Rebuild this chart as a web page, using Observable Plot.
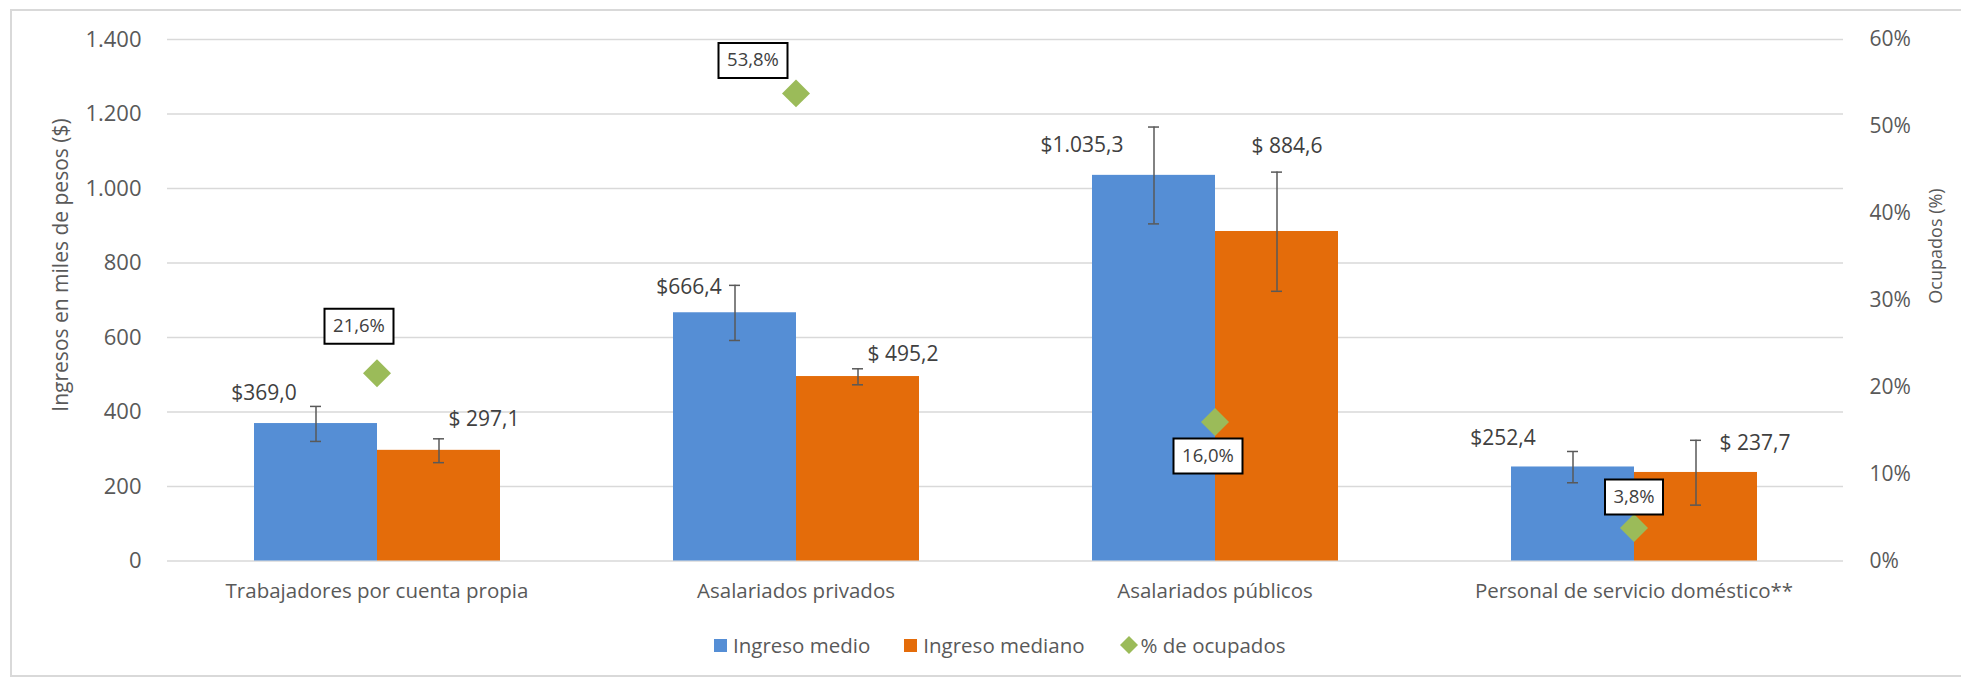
<!DOCTYPE html>
<html>
<head>
<meta charset="utf-8">
<script src="https://cdn.jsdelivr.net/npm/d3@7"></script>
<script src="https://cdn.jsdelivr.net/npm/@observablehq/plot@0.6"></script>
<style>
  body { margin: 0; background: #fff; font-family: "Open Sans", sans-serif; overflow: hidden; }
  #wrap { position: relative; width: 1961px; height: 680px; overflow: hidden; }
  #border { position: absolute; left: 10px; top: 9px; width: 1970px; height: 668px; border: 2px solid #d9d9d9; box-sizing: border-box; }
  #chart { position: absolute; left: 0; top: 0; }
  .ytitle { position: absolute; white-space: nowrap; color: #595959; transform: translate(-50%, -50%) rotate(-90deg); }
  #legend { position: absolute; left: 714px; top: 645px; transform: translateY(-50%); display: flex; align-items: center; font-size: 20.5px; color: #595959; }
  .item { display: flex; align-items: center; margin-right: 34px; }
  .sw { width: 13px; height: 13px; margin-right: 6px; }
</style>
</head>
<body>
<div id="wrap">
  <div id="border"></div>
  <div id="chart"></div>
  <div class="ytitle" style="left:60px; top:265px; font-size:21px;">Ingresos en miles de pesos ($)</div>
  <div class="ytitle" style="left:1935px; top:246px; font-size:18px;">Ocupados (%)</div>
  <div id="legend"></div>
</div>
<script>
// ---- Data ----
const categories = ["Trabajadores por cuenta propia", "Asalariados privados", "Asalariados públicos", "Personal de servicio doméstico**"];
const seriesNames = ["Ingreso medio", "Ingreso mediano"];
const ingresoMedio = [369.0, 666.4, 1035.3, 252.4];
const ingresoMediano = [297.1, 495.2, 884.6, 237.7];
const medioLo = [321, 592, 905, 210];
const medioHi = [415, 740, 1165, 294];
const medianoLo = [264, 473, 724, 150];
const medianoHi = [328, 516, 1044, 324];
const pctOcupados = [21.6, 53.8, 16.0, 3.8];
const yTicks = [0, 200, 400, 600, 800, 1000, 1200, 1400];
const pctTicks = [0, 10, 20, 30, 40, 50, 60];
const pctName = "% de ocupados";

// ---- Layout (label placement, not data) ----
const barLabelOffset = {
  "Ingreso medio": [[-52, -30], [-46, -26], [-72, -30], [-70, -29]],
  "Ingreso mediano": [[45, -31], [45, -22], [10, -85], [59, -29]]
};
const pctLabelOffset = [[-18, -47], [-43, -33], [-7, 34], [0, -31]];
const colors = ["#558ED5", "#E46C0A"];
const green = "#9BBB59";

const loc = d3.formatLocale({decimal: ",", thousands: ".", grouping: [3], currency: ["$", ""]});
const fmt1 = loc.format(",.1f");
const fmt0 = loc.format(",.0f");
const K = 1400 / 60; // secondary axis: % mapped onto the income scale

const bars = categories.flatMap((c, i) => [
  {cat: c, i, serie: seriesNames[0], value: ingresoMedio[i], lo: medioLo[i], hi: medioHi[i], label: "$" + fmt1(ingresoMedio[i])},
  {cat: c, i, serie: seriesNames[1], value: ingresoMediano[i], lo: medianoLo[i], hi: medianoHi[i], label: "$ " + fmt1(ingresoMediano[i])}
]);
const pts = categories.map((c, i) => ({cat: c, i, pct: pctOcupados[i], label: fmt1(pctOcupados[i]) + "%"}));

const labelMarks = bars.map(b => Plot.text([b], {
  fx: "cat", x: "serie", y: "value", text: "label",
  dx: barLabelOffset[b.serie][b.i][0], dy: barLabelOffset[b.serie][b.i][1],
  fill: "#404040", fontSize: 21
}));
const boxSymbol = (w, h) => ({draw(ctx) { ctx.rect(-w / 2, -h / 2, w, h); }});
const pctLabelMarks = pts.flatMap(p => {
  const [dx, dy] = pctLabelOffset[p.i];
  const w = 14 + 11 * p.label.length;
  return [
    Plot.dot([p], {fx: "cat", y: d => d.pct * K, symbol: boxSymbol(w, 35), r: 10,
      fill: "white", stroke: "black", strokeWidth: 2, dx, dy}),
    Plot.text([p], {fx: "cat", y: d => d.pct * K, text: "label", dx, dy,
      fill: "#404040", fontSize: 18.5})
  ];
});

const chart = Plot.plot({
  width: 1961, height: 625,
  marginLeft: 166, marginRight: 118, marginTop: 39, marginBottom: 64.5,
  style: {fontFamily: '"Open Sans", sans-serif', fontSize: "21px", color: "#595959", background: "transparent"},
  fx: {domain: categories, padding: 0, axis: null},
  x: {domain: seriesNames, paddingInner: 0, paddingOuter: 0.7, axis: null},
  y: {domain: [0, 1400], axis: null},
  r: {type: "identity"},
  color: {domain: seriesNames, range: colors},
  marks: [
    Plot.gridY(yTicks, {stroke: "#d9d9d9", strokeOpacity: 1, strokeWidth: 1.5}),
    Plot.barY(bars, {fx: "cat", x: "serie", y: "value", fill: "serie"}),
    Plot.ruleX(bars, {fx: "cat", x: "serie", y1: "lo", y2: "hi", stroke: "#595959", strokeWidth: 1.5}),
    Plot.tickY(bars, {fx: "cat", x: "serie", y: "lo", stroke: "#595959", strokeWidth: 1.5, insetLeft: 56, insetRight: 56}),
    Plot.tickY(bars, {fx: "cat", x: "serie", y: "hi", stroke: "#595959", strokeWidth: 1.5, insetLeft: 56, insetRight: 56}),
    ...labelMarks,
    Plot.dot(pts, {fx: "cat", y: d => d.pct * K, symbol: "diamond2", r: 12.6, fill: green}),
    ...pctLabelMarks,
    Plot.axisY(yTicks, {anchor: "left", tickSize: 0, tickPadding: 26, tickFormat: fmt0, label: null, fontSize: 22}),
    Plot.axisY(pctTicks.map(p => p * K), {anchor: "right", tickSize: 0, tickPadding: 26, tickFormat: v => Math.round(v / K) + "%", label: null, fontSize: 21}),
    Plot.axisFx({anchor: "bottom", tickSize: 0, tickPadding: 22, label: null, fontSize: 20.5})
  ]
});
document.getElementById("chart").appendChild(chart);

// ---- Legend ----
const legend = document.getElementById("legend");
seriesNames.forEach((s, k) => {
  const it = document.createElement("div");
  it.className = "item";
  it.innerHTML = `<div class="sw" style="background:${colors[k]}"></div><span>${s}</span>`;
  legend.appendChild(it);
});
const it = document.createElement("div");
it.className = "item";
it.innerHTML = `<svg width="20" height="20" style="margin-right:2px"><path d="M10,1L19,10L10,19L1,10Z" fill="${green}"/></svg><span>${pctName}</span>`;
legend.appendChild(it);
</script>
</body>
</html>
